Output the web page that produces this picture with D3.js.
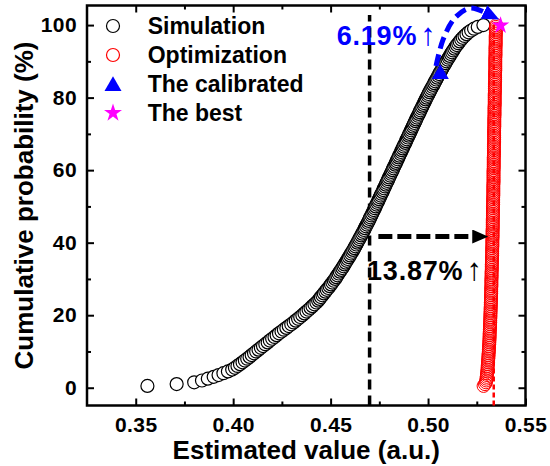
<!DOCTYPE html>
<html>
<head>
<meta charset="utf-8">
<script src="https://cdn.jsdelivr.net/npm/d3@7"></script>
<style>
    body { margin: 0; background: #fff; }
    svg text { font-family: "Liberation Sans", Arial, Helvetica, sans-serif; font-weight: bold; }
</style>
</head>
<body>
<div id="chart"></div>
<script>

// Sorted estimated values, one per 0.5 % step
var simValues = [
    0.3560,0.3710,0.3800,0.3840,0.3870,0.3900,0.3925,0.3950,0.3973,0.3995,
    0.4009,0.4022,0.4035,0.4048,0.4060,0.4072,0.4084,0.4095,0.4107,0.4118,
    0.4130,0.4142,0.4153,0.4165,0.4177,0.4188,0.4200,0.4212,0.4223,0.4235,
    0.4248,0.4260,0.4273,0.4285,0.4298,0.4310,0.4321,0.4333,0.4344,0.4355,
    0.4366,0.4376,0.4387,0.4397,0.4407,0.4417,0.4427,0.4436,0.4443,0.4450,
    0.4458,0.4465,0.4473,0.4480,0.4488,0.4495,0.4502,0.4509,0.4516,0.4523,
    0.4529,0.4535,0.4541,0.4547,0.4554,0.4560,0.4566,0.4571,0.4577,0.4583,
    0.4588,0.4594,0.4600,0.4605,0.4611,0.4616,0.4622,0.4627,0.4632,0.4637,
    0.4642,0.4647,0.4652,0.4657,0.4662,0.4667,0.4672,0.4676,0.4681,0.4686,
    0.4691,0.4695,0.4700,0.4704,0.4709,0.4713,0.4718,0.4722,0.4727,0.4731,
    0.4735,0.4740,0.4744,0.4748,0.4753,0.4757,0.4761,0.4766,0.4770,0.4774,
    0.4779,0.4783,0.4787,0.4792,0.4796,0.4800,0.4805,0.4809,0.4813,0.4818,
    0.4822,0.4826,0.4831,0.4835,0.4839,0.4844,0.4848,0.4852,0.4857,0.4861,
    0.4865,0.4870,0.4874,0.4878,0.4883,0.4887,0.4891,0.4896,0.4900,0.4904,
    0.4909,0.4913,0.4917,0.4922,0.4926,0.4930,0.4935,0.4939,0.4943,0.4948,
    0.4952,0.4957,0.4961,0.4966,0.4970,0.4975,0.4979,0.4984,0.4988,0.4993,
    0.4998,0.5002,0.5007,0.5012,0.5017,0.5022,0.5027,0.5032,0.5037,0.5042,
    0.5047,0.5052,0.5057,0.5062,0.5068,0.5073,0.5078,0.5083,0.5089,0.5094,
    0.5100,0.5106,0.5111,0.5117,0.5123,0.5129,0.5135,0.5141,0.5148,0.5155,
    0.5162,0.5170,0.5178,0.5187,0.5197,0.5208,0.5221,0.5236,0.5255,0.5284
];

var optValues = [
    0.5285,0.5292,0.5297,0.5299,0.5300,0.5301,0.5302,0.5303,0.5304,0.5305,
    0.5306,0.5306,0.5307,0.5308,0.5308,0.5309,0.5310,0.5310,0.5311,0.5312,
    0.5312,0.5313,0.5313,0.5314,0.5314,0.5315,0.5315,0.5316,0.5316,0.5316,
    0.5317,0.5317,0.5318,0.5318,0.5318,0.5319,0.5319,0.5319,0.5320,0.5320,
    0.5320,0.5321,0.5321,0.5321,0.5322,0.5322,0.5322,0.5323,0.5323,0.5323,
    0.5323,0.5324,0.5324,0.5324,0.5324,0.5325,0.5325,0.5325,0.5325,0.5325,
    0.5326,0.5326,0.5326,0.5326,0.5327,0.5327,0.5327,0.5327,0.5328,0.5328,
    0.5328,0.5328,0.5329,0.5329,0.5329,0.5329,0.5329,0.5330,0.5330,0.5330,
    0.5330,0.5330,0.5331,0.5331,0.5331,0.5331,0.5331,0.5332,0.5332,0.5332,
    0.5332,0.5332,0.5332,0.5333,0.5333,0.5333,0.5333,0.5333,0.5333,0.5333,
    0.5334,0.5334,0.5334,0.5334,0.5334,0.5335,0.5335,0.5335,0.5335,0.5335,
    0.5335,0.5335,0.5336,0.5336,0.5336,0.5336,0.5336,0.5336,0.5336,0.5336,
    0.5337,0.5337,0.5337,0.5337,0.5337,0.5337,0.5337,0.5338,0.5338,0.5338,
    0.5338,0.5338,0.5338,0.5338,0.5339,0.5339,0.5339,0.5339,0.5339,0.5339,
    0.5339,0.5339,0.5339,0.5340,0.5340,0.5340,0.5340,0.5340,0.5340,0.5341,
    0.5341,0.5341,0.5341,0.5341,0.5341,0.5342,0.5342,0.5342,0.5342,0.5342,
    0.5342,0.5342,0.5343,0.5343,0.5343,0.5343,0.5343,0.5343,0.5344,0.5344,
    0.5344,0.5344,0.5344,0.5344,0.5345,0.5345,0.5345,0.5345,0.5345,0.5345,
    0.5345,0.5345,0.5346,0.5346,0.5346,0.5346,0.5346,0.5346,0.5347,0.5347,
    0.5347,0.5347,0.5347,0.5347,0.5348,0.5348,0.5348,0.5348,0.5348,0.5350
];

var calibratedPoint = [0.5063, 86.5];
var bestPoint = [0.5372, 99.9];

var legendLabels = ["Simulation", "Optimization", "The calibrated", "The best"];

var xTicks = [0.35, 0.40, 0.45, 0.50, 0.55];
var xMinorTicks = [0.375, 0.425, 0.475, 0.525];
var yTicks = [0, 20, 40, 60, 80, 100];
var yMinorTicks = [10, 30, 50, 70, 90];

// reference lines and gain annotations
var simReference = 0.47;
var optReference = 0.5337;
var gainLevel = 41.7;
var gainArrowX = [0.4745, 0.5309];
var gainTexts = ["13.87%", "6.19%"];
var gainTextPos = [[0.4687, 29.7], [0.4531, 94.5]];
var bluePath = [[0.5041, 88.7], [0.5077, 96.0], [0.5138, 102.0], [0.5215, 104.7], [0.5287, 103.6]];


function CdfChart(_parentElement){
    this.parentElement = _parentElement;
    this.initVis();
}

CdfChart.prototype.initVis = function(){
    var vis = this;

    vis.margin = {top: 5.5, right: 24.5, bottom: 60.5, left: 87};
    vis.width = 550 - vis.margin.left - vis.margin.right;
    vis.height = 466 - vis.margin.top - vis.margin.bottom;

    vis.svg = d3.select("#" + vis.parentElement).append("svg")
        .attr("width", 550)
        .attr("height", 466)
      .append("g")
        .attr("transform", "translate(" + vis.margin.left + "," + vis.margin.top + ")");

    // Scales
    vis.x = d3.scaleLinear().domain([0.325, 0.55]).range([0, vis.width]);
    vis.y = d3.scaleLinear().domain([-4.9, 105.4]).range([vis.height, 0]);

    vis.simData = simValues.map(function(v, i){ return {x: v, p: (i + 1) / simValues.length * 100}; });
    vis.optData = optValues.map(function(v, i){ return {x: v, p: (i + 1) / optValues.length * 100}; });

    vis.drawAxes();
    vis.drawMarks();
    vis.drawLegend();
};

CdfChart.prototype.drawAxes = function(){
    var vis = this;

    var major = [
        d3.axisBottom(vis.x).tickValues(xTicks).tickFormat(d3.format(".2f")).tickSizeInner(-7).tickSizeOuter(0).tickPadding(11.5),
        d3.axisLeft(vis.y).tickValues(yTicks).tickSizeInner(-7).tickSizeOuter(0).tickPadding(10),
        d3.axisTop(vis.x).tickValues(xTicks).tickFormat("").tickSizeInner(-7).tickSizeOuter(0),
        d3.axisRight(vis.y).tickValues(yTicks).tickFormat("").tickSizeInner(-7).tickSizeOuter(0)
    ];
    var minor = [
        d3.axisBottom(vis.x).tickValues(xMinorTicks).tickFormat("").tickSizeInner(-4).tickSizeOuter(0),
        d3.axisLeft(vis.y).tickValues(yMinorTicks).tickFormat("").tickSizeInner(-4).tickSizeOuter(0),
        d3.axisTop(vis.x).tickValues(xMinorTicks).tickFormat("").tickSizeInner(-4).tickSizeOuter(0),
        d3.axisRight(vis.y).tickValues(yMinorTicks).tickFormat("").tickSizeInner(-4).tickSizeOuter(0)
    ];
    var shifts = ["translate(0," + vis.height + ")", null, null, "translate(" + vis.width + ",0)"];

    major.concat(minor).forEach(function(ax, i){
        var g = vis.svg.append("g")
            .attr("class", "axis")
            .attr("transform", shifts[i % 4])
            .call(ax);
        g.select(".domain").remove();
        g.selectAll("line").attr("stroke", "#000").attr("stroke-width", 2);
        g.selectAll("text").attr("fill", "#000")
            .style("font-size", "21px")
            .style("letter-spacing", "0.4px");
    });

    // frame
    vis.svg.append("rect")
        .attr("width", vis.width)
        .attr("height", vis.height)
        .attr("fill", "none")
        .attr("stroke", "#000")
        .attr("stroke-width", 2.5);

    // axis titles
    vis.svg.append("text")
        .attr("x", vis.width / 2)
        .attr("y", vis.height + 53)
        .attr("text-anchor", "middle")
        .style("font-size", "26px")
        .text("Estimated value (a.u.)");

    vis.svg.append("text")
        .attr("transform", "translate(-54," + vis.height / 2 + ") rotate(-90)")
        .attr("text-anchor", "middle")
        .style("font-size", "26px")
        .text("Cumulative probability (%)");
};

CdfChart.prototype.drawMarks = function(){
    var vis = this;

    // reference lines
    vis.svg.append("line")
        .attr("x1", vis.x(optReference)).attr("x2", vis.x(optReference))
        .attr("y1", vis.y(-4.9)).attr("y2", vis.y(100))
        .attr("stroke", "#ff0000").attr("stroke-width", 2.5)
        .attr("stroke-dasharray", "5,3");

    vis.svg.append("line")
        .attr("x1", vis.x(simReference)).attr("x2", vis.x(simReference))
        .attr("y1", vis.y(-4.9)).attr("y2", vis.y(102.8))
        .attr("stroke", "#000").attr("stroke-width", 3.5)
        .attr("stroke-dasharray", "10,6");

    // Simulation circles
    vis.svg.append("g").selectAll("circle")
        .data(vis.simData)
        .enter().append("circle")
        .attr("cx", function(d){ return vis.x(d.x); })
        .attr("cy", function(d){ return vis.y(d.p); })
        .attr("r", 6.5)
        .attr("fill", "#fff")
        .attr("stroke", "#000")
        .attr("stroke-width", 1.2);

    // Optimization circles
    vis.svg.append("g").selectAll("circle")
        .data(vis.optData)
        .enter().append("circle")
        .attr("cx", function(d){ return vis.x(d.x); })
        .attr("cy", function(d){ return vis.y(d.p); })
        .attr("r", 6.5)
        .attr("fill", "none")
        .attr("stroke", "#ff0000")
        .attr("stroke-width", 1);

    // arrow heads
    var defs = vis.svg.append("defs");
    [["headBlack", "#000", 16, 14], ["headBlue", "#0000ff", 17, 15]].forEach(function(m){
        defs.append("marker")
            .attr("id", m[0])
            .attr("markerUnits", "userSpaceOnUse")
            .attr("viewBox", "0 0 " + m[2] + " " + m[3])
            .attr("markerWidth", m[2]).attr("markerHeight", m[3])
            .attr("refX", 0).attr("refY", m[3] / 2)
            .attr("orient", "auto")
          .append("path")
            .attr("d", "M0,0L" + m[2] + "," + m[3] / 2 + "L0," + m[3] + "Z")
            .attr("fill", m[1]);
    });

    // black gain arrow
    vis.svg.append("line")
        .attr("x1", vis.x(gainArrowX[0]))
        .attr("x2", vis.x(gainArrowX[1]) - 16)
        .attr("y1", vis.y(gainLevel)).attr("y2", vis.y(gainLevel))
        .attr("stroke", "#000").attr("stroke-width", 5)
        .attr("stroke-dasharray", "14,5")
        .attr("marker-end", "url(#headBlack)");

    // blue curved arrow
    var curve = d3.line()
        .x(function(d){ return vis.x(d[0]); })
        .y(function(d){ return vis.y(d[1]); })
        .curve(d3.curveCatmullRom);

    vis.svg.append("path")
        .attr("d", curve(bluePath))
        .attr("fill", "none")
        .attr("stroke", "#0000ff").attr("stroke-width", 5)
        .attr("stroke-dasharray", "12,6")
        .attr("marker-end", "url(#headBlue)");

    // calibrated and best points
    vis.svg.append("path")
        .attr("d", d3.symbol(d3.symbolTriangle, 125)())
        .attr("transform", "translate(" + vis.x(calibratedPoint[0]) + "," + vis.y(calibratedPoint[1]) + ")")
        .attr("fill", "#0000ff");

    vis.svg.append("path")
        .attr("d", d3.symbol(d3.symbolStar, 95)())
        .attr("transform", "translate(" + vis.x(bestPoint[0]) + "," + vis.y(bestPoint[1]) + ")")
        .attr("fill", "#ff00ff");

    // gain labels
    var colors = ["#000", "#0000ff"];
    gainTexts.forEach(function(t, i){
        var txt = vis.svg.append("text")
            .attr("x", vis.x(gainTextPos[i][0]))
            .attr("y", vis.y(gainTextPos[i][1]))
            .attr("fill", colors[i])
            .style("font-size", "27px")
            .style("letter-spacing", "0.8px");
        txt.append("tspan").text(t);
        txt.append("tspan")
            .attr("dx", 3)
            .style("font-weight", "normal")
            .style("font-size", "31px")
            .text("\u2191");
    });
};

CdfChart.prototype.drawLegend = function(){
    var vis = this;

    var legend = vis.svg.append("g")
        .attr("transform", "translate(" + (113 - vis.margin.left) + "," + (26 - vis.margin.top) + ")");

    var rows = legend.selectAll("g")
        .data(legendLabels)
        .enter().append("g")
        .attr("transform", function(d, i){ return "translate(0," + i * 29 + ")"; });

    rows.each(function(d, i){
        var row = d3.select(this);
        if (i < 2) {
            row.append("circle").attr("r", 6.5)
                .attr("fill", "#fff")
                .attr("stroke", i == 0 ? "#000" : "#ff0000")
                .attr("stroke-width", 1.2);
        } else if (i == 2) {
            row.append("path").attr("d", d3.symbol(d3.symbolTriangle, 125)())
                .attr("transform", "translate(0,2)")
                .attr("fill", "#0000ff");
        } else {
            row.append("path").attr("d", d3.symbol(d3.symbolStar, 100)())
                .attr("fill", "#ff00ff");
        }
        row.append("text")
            .attr("x", 34.7)
            .attr("dy", "0.36em")
            .style("font-size", "23px")
            .text(d);
    });
};

new CdfChart("chart");
</script>
</body>
</html>
